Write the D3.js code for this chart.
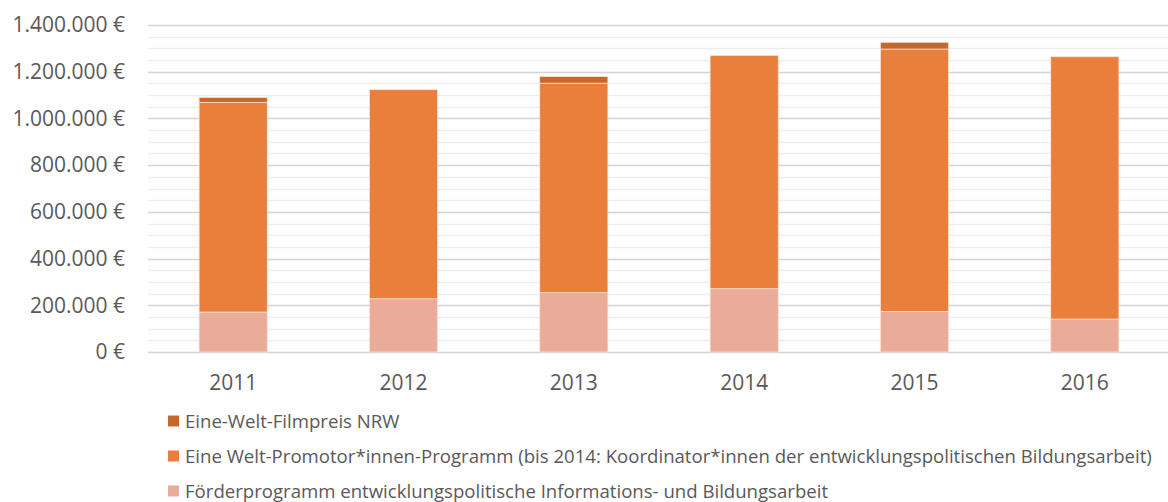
<!DOCTYPE html>
<html>
<head>
<meta charset="utf-8">
<script src="https://cdn.jsdelivr.net/npm/d3@7"></script>
<style>
  body { margin: 0; background: #fff; }
  svg { display: block; font-family: "Open Sans", "Noto Sans", sans-serif; }
</style>
</head>
<body>
<div id="chart"></div>
<script>
// Fördermittel je Jahr (in €), gestapelt
var years = ["2011", "2012", "2013", "2014", "2015", "2016"];
var foerderprogramm = [171000, 228000, 254000, 271000, 173000, 141000];
var promotoren = [898000, 895000, 897000, 999000, 1124000, 1123000];
var filmpreis = [21000, 0, 28000, 0, 29000, 0];
var seriesNames = [
    "Förderprogramm entwicklungspolitische Informations- und Bildungsarbeit",
    "Eine Welt-Promotor*innen-Programm (bis 2014: Koordinator*innen der entwicklungspolitischen Bildungsarbeit)",
    "Eine-Welt-Filmpreis NRW"
];
var yTicks = [0, 200000, 400000, 600000, 800000, 1000000, 1200000, 1400000];
var colors = ["#EAAC98", "#EA7E3B", "#C5682D"];

var width = 1168, height = 502;
var margin = {top: 25, right: -2, bottom: 150, left: 148};
var plotW = width - margin.left - margin.right,
    plotH = height - margin.top - margin.bottom;

var rows = years.map(function(y, i) {
    return {year: y, s0: foerderprogramm[i], s1: promotoren[i], s2: filmpreis[i]};
});
var stack = d3.stack().keys(["s0", "s1", "s2"]);
var stacked = stack(rows);

var x = d3.scaleBand().domain(years).range([0, plotW]).paddingInner(0.6).paddingOuter(0.3);
var y = d3.scaleLinear().domain([0, 1400000]).range([plotH, 0]);

var svg = d3.select("#chart").append("svg")
    .attr("width", width)
    .attr("height", height);
var g = svg.append("g")
    .attr("transform", "translate(" + margin.left + "," + margin.top + ")");

// minor gridlines every 50.000
g.append("g").selectAll("line")
    .data(d3.range(50000, 1400001, 50000).filter(function(v) { return v % 200000 !== 0; }))
    .enter().append("line")
    .attr("x1", 0).attr("x2", plotW)
    .attr("y1", function(d) { return Math.round(y(d)) + 0.5; })
    .attr("y2", function(d) { return Math.round(y(d)) + 0.5; })
    .attr("stroke", "#EDEDED").attr("stroke-width", 1.5);

// major gridlines
g.append("g").selectAll("line")
    .data(yTicks)
    .enter().append("line")
    .attr("x1", 0).attr("x2", plotW)
    .attr("y1", function(d) { return Math.round(y(d)) + 0.5; })
    .attr("y2", function(d) { return Math.round(y(d)) + 0.5; })
    .attr("stroke", "#D4D4D4").attr("stroke-width", 1.5);

// bars
g.append("g").selectAll("g")
    .data(stacked)
    .enter().append("g")
    .attr("fill", function(d, i) { return colors[i]; })
    .selectAll("rect")
    .data(function(d) { return d.filter(function(p) { return p[1] - p[0] > 0; }); })
    .enter().append("rect")
    .attr("x", function(d) { return x(d.data.year); })
    .attr("y", function(d) { return y(d[1]); })
    .attr("width", x.bandwidth())
    .attr("height", function(d) { return y(d[0]) - y(d[1]); })
    .attr("stroke", "#FBE3D6").attr("stroke-width", 0.75);

// y axis labels
var fmt = function(v) {
    return d3.format(",")(v).replace(/,/g, ".") + " €";
};
g.append("g").selectAll("text")
    .data(yTicks)
    .enter().append("text")
    .attr("x", -23)
    .attr("y", function(d) { return y(d); })
    .attr("dy", "0.35em")
    .attr("text-anchor", "end")
    .attr("fill", "#595959")
    .style("font-size", "21px")
    .text(fmt);

// x axis labels
g.append("g").selectAll("text")
    .data(years)
    .enter().append("text")
    .attr("x", function(d) { return x(d) + x.bandwidth() / 2; })
    .attr("y", plotH + 31)
    .attr("dy", "0.35em")
    .attr("text-anchor", "middle")
    .attr("fill", "#595959")
    .style("font-size", "21px")
    .text(function(d) { return d; });

// legend (top to bottom: reverse stack order)
var legendItems = [2, 1, 0];
var legend = svg.append("g").selectAll("g")
    .data(legendItems)
    .enter().append("g")
    .attr("transform", function(d, i) { return "translate(168," + (421 + i * 35) + ")"; });
legend.append("rect")
    .attr("x", 0).attr("y", -5.5)
    .attr("width", 11).attr("height", 11)
    .attr("fill", function(d) { return colors[d]; });
legend.append("text")
    .attr("x", 17)
    .attr("dy", "0.35em")
    .attr("fill", "#595959")
    .style("font-size", "18.6px")
    .text(function(d) { return seriesNames[d]; });
</script>
</body>
</html>
